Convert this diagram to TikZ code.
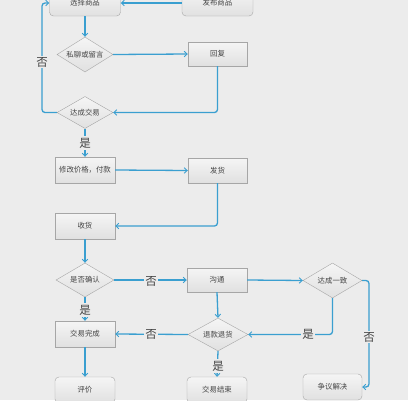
\documentclass[tikz,border=0pt]{standalone}
\usepackage{fontspec}
\newfontfamily\cjk{Noto Sans CJK SC}
\usetikzlibrary{shapes.geometric,arrows.meta}
\definecolor{bg}{HTML}{ECECEC}
\definecolor{bd}{HTML}{A6A6A6}
\definecolor{ln}{HTML}{3A9FD0}
\definecolor{tx}{HTML}{444444}
\tikzset{
  base/.style={draw=bd, top color=white!96!black, bottom color=white!88!black, text=tx, font=\cjk\fontsize{7.4}{8}\selectfont, inner sep=0pt},
  box/.style={base, rectangle, minimum width=60pt, minimum height=25pt},
  rbox/.style={box, rounded corners=4pt},
  dia/.style={base, diamond, shape aspect=1.65, minimum width=57pt, minimum height=34pt},
  con/.style={draw=ln, line width=1.3pt, rounded corners=3pt, -{Straight Barb[length=3pt,width=5.5pt,line width=0.9pt]}},
  lab/.style={fill=bg, text=tx, font=\cjk\fontsize{11.5}{12}\selectfont, inner sep=1.5pt}
}
\begin{document}
\begin{tikzpicture}[x=1pt,y=-1pt]
\fill[bg] (0,0) rectangle (408,400);
\useasboundingbox (0,0) rectangle (408,400);
\clip (0,0) rectangle (408,400);
% nodes
\node[rbox, minimum width=71pt, minimum height=26pt] (sel) at (85,3) {选择商品};
\node[rbox, minimum width=71pt, minimum height=26pt] (pub) at (217.5,3) {发布商品};
\node[dia, minimum width=56pt, minimum height=35pt] (priv) at (85,54.5) {私聊或留言};
\node[box, minimum width=59pt, minimum height=24pt] (reply) at (217.5,54) {回复};
\node[dia, minimum width=56pt, minimum height=32pt] (deal) at (85,112.5) {达成交易};
\node[box, minimum height=26pt] (mod) at (85,170) {修改价格，付款};
\node[box, minimum width=59pt] (ship) at (217.5,170.5) {发货};
\node[box, minimum height=26pt] (recv) at (85,226) {收货};
\node[dia, minimum width=58pt] (conf) at (85,280) {是否确认};
\node[box, minimum height=24pt] (talk) at (217,280) {沟通};
\node[dia, minimum width=59pt, minimum height=35pt] (agree) at (332.5,280.5) {达成一致};
\node[dia, minimum width=60pt, minimum height=33pt] (refund) at (218,334.5) {退款退货};
\node[box, minimum height=26pt] (done) at (85,334) {交易完成};
\node[rbox, minimum height=26pt] (eval) at (85,390) {评价};
\node[rbox, minimum height=26pt] (end) at (217,390) {交易结束};
\node[rbox, minimum width=59pt, minimum height=26pt] (disp) at (332.5,387) {争议解决};
% connectors
\draw[con] (pub.west) -- (sel.east);
\draw[con] (sel.south) -- (priv.north);
\draw[con] (priv.east) -- (reply.west);
\draw[con] (reply.south) |- (deal.east);
\coordinate (nl) at (42,112.5);
\draw[con] (deal.west) -- (nl) |- (sel.west);
\node[lab] at (42,62) {否};
\draw[con] (deal.south) -- (mod.north);
\node[lab] at (85,143) {是};
\draw[con] (mod.east) -- (ship.west);
\draw[con] (ship.south) |- (recv.east);
\draw[con] (recv.south) -- (conf.north);
\draw[con] (conf.east) -- (talk.west);
\node[lab] at (151,281) {否};
\draw[con] (talk.east) -- (agree.west);
\draw[con] (agree.south) |- (refund.east);
\node[lab] at (308,334.5) {是};
\draw[con] (talk.south) -- (refund.north);
\draw[con] (refund.west) -- (done.east);
\node[lab] at (151,334.5) {否};
\draw[con] (conf.south) -- (done.north);
\node[lab] at (85,310) {是};
\draw[con] (done.south) -- (eval.north);
\draw[con] (refund.south) -- (end.north);
\node[lab] at (218,366) {是};
\coordinate (nr) at (369,280.5);
\draw[con] (agree.east) -- (nr) |- (disp.east);
\node[lab] at (369,337) {否};
\end{tikzpicture}
\end{document}
